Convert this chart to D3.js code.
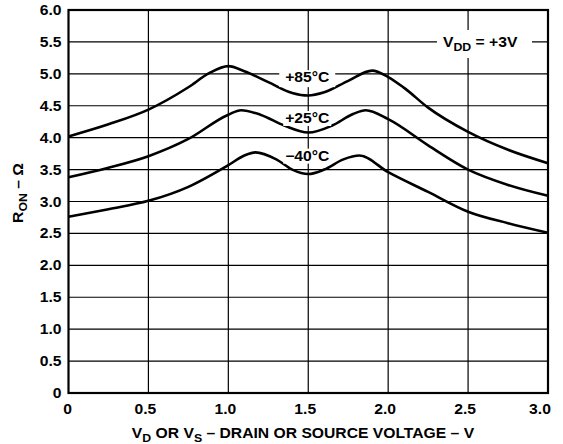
<!DOCTYPE html>
<html>
<head>
<meta charset="utf-8">
<script src="https://cdn.jsdelivr.net/npm/d3@7"></script>
<style>
  body { margin: 0; background: #fff; }
  svg text { font-family: "Liberation Sans", Arial, sans-serif; font-weight: bold; fill: #000; font-size: 14px; }
</style>
</head>
<body>
<svg id="chart" width="563" height="444"></svg>
<script>
// Curve data (V in volts, R in ohms)
const v85 = [0, 0.25, 0.5, 0.75, 0.88, 1.0, 1.1, 1.25, 1.4, 1.5, 1.6, 1.75, 1.9, 2.0, 2.1, 2.25, 2.5, 2.75, 3.0];
const r85 = [4.02, 4.21, 4.44, 4.79, 5.01, 5.12, 5.04, 4.87, 4.70, 4.66, 4.71, 4.89, 5.05, 4.95, 4.78, 4.47, 4.09, 3.81, 3.60];

const v25 = [0, 0.25, 0.5, 0.75, 1.0, 1.08, 1.2, 1.35, 1.5, 1.65, 1.78, 1.86, 2.0, 2.25, 2.5, 2.75, 3.0];
const r25 = [3.38, 3.53, 3.71, 3.98, 4.36, 4.43, 4.36, 4.19, 4.08, 4.19, 4.37, 4.43, 4.29, 3.88, 3.50, 3.26, 3.09];

const vm40 = [0, 0.25, 0.5, 0.75, 1.0, 1.1, 1.17, 1.3, 1.4, 1.5, 1.6, 1.72, 1.82, 2.0, 2.25, 2.5, 2.75, 3.0];
const rm40 = [2.76, 2.88, 3.01, 3.23, 3.57, 3.72, 3.77, 3.66, 3.50, 3.43, 3.50, 3.66, 3.72, 3.46, 3.15, 2.84, 2.66, 2.51];

const xTicks = [0, 0.5, 1.0, 1.5, 2.0, 2.5, 3.0];
const yTicks = [0, 0.5, 1.0, 1.5, 2.0, 2.5, 3.0, 3.5, 4.0, 4.5, 5.0, 5.5, 6.0];
const xTickLabels = ['0', '0.5', '1.0', '1.5', '2.0', '2.5', '3.0'];
const yTickLabels = ['0', '0.5', '1.0', '1.5', '2.0', '2.5', '3.0', '3.5', '4.0', '4.5', '5.0', '5.5', '6.0'];

const seriesNames = ['+85°C', '+25°C', '\u221240°C'];

// Plot box in page pixels
const margin = { top: 10, right: 15, bottom: 51, left: 68.5 };
const width = 563 - margin.left - margin.right;
const height = 444 - margin.top - margin.bottom;

// The original lettering is a bit wider than Arial bold
const stretch = 1.12;
const place = (px, py, rot) =>
  `translate(${px},${py})${rot ? ` rotate(${rot})` : ''} scale(${stretch},1)`;

const svg = d3.select('#chart');

const x = d3.scaleLinear().domain([0, 3]).range([margin.left, margin.left + width]);
const y = d3.scaleLinear().domain([0, 6]).range([margin.top + height, margin.top]);

// Grid lines
const grid = svg.append('g').attr('stroke', '#000').attr('stroke-width', 1.2);
grid.selectAll('.vg')
  .data(xTicks.slice(1, -1))
  .enter().append('line')
  .attr('x1', d => x(d)).attr('x2', d => x(d))
  .attr('y1', y(0)).attr('y2', y(6));
grid.selectAll('.hg')
  .data(yTicks.slice(1, -1))
  .enter().append('line')
  .attr('x1', x(0)).attr('x2', x(3))
  .attr('y1', d => y(d)).attr('y2', d => y(d));

// Tick labels
svg.append('g')
  .selectAll('text')
  .data(yTicks)
  .enter().append('text')
  .attr('transform', d => place(margin.left - 7, y(d) + 5))
  .attr('text-anchor', 'end')
  .text((d, i) => yTickLabels[i]);

svg.append('g')
  .selectAll('text')
  .data(xTicks)
  .enter().append('text')
  .attr('transform', (d, i) => place(x(d) - (i === 0 ? 1 : i === xTicks.length - 1 ? 8 : 3), y(0) + 21))
  .attr('text-anchor', 'middle')
  .text((d, i) => xTickLabels[i]);

// Axis titles with subscripts
const xTitle = svg.append('text')
  .attr('transform', place(303, 437.5))
  .attr('text-anchor', 'middle');
xTitle.append('tspan').text('V');
xTitle.append('tspan').attr('dy', 4).style('font-size', '11px').text('D');
xTitle.append('tspan').attr('dy', -4).text(' OR V');
xTitle.append('tspan').attr('dy', 4).style('font-size', '11px').text('S');
xTitle.append('tspan').attr('dy', -4).text(' \u2013 DRAIN OR SOURCE VOLTAGE \u2013 V');

const yTitle = svg.append('text')
  .attr('transform', place(23, 193, -90))
  .attr('text-anchor', 'middle');
yTitle.append('tspan').text('R');
yTitle.append('tspan').attr('dy', 4).style('font-size', '11px').text('ON');
yTitle.append('tspan').attr('dy', -4).text(' \u2013 \u03A9');

// Curves
const line = d3.line()
  .x(d => x(d[0]))
  .y(d => y(d[1]))
  .curve(d3.curveMonotoneX);

const series = [
  d3.zip(v85, r85),
  d3.zip(v25, r25),
  d3.zip(vm40, rm40)
];

svg.append('g')
  .selectAll('path')
  .data(series)
  .enter().append('path')
  .attr('d', line)
  .attr('fill', 'none')
  .attr('stroke', '#000')
  .attr('stroke-width', 2.6)
  .attr('stroke-linejoin', 'round');

// Curve labels on white boxes (baseline values)
const labelY = [4.87, 4.23, 3.64];
const labelBox = [[-28, -12, 56, 17], [-24, -12, 48, 15], [-24, -12, 48, 15]];
const labels = svg.append('g');
seriesNames.forEach((name, i) => {
  const cx = x(1.5) - 1;
  const by = y(labelY[i]);
  const b = labelBox[i];
  labels.append('rect')
    .attr('x', cx + b[0])
    .attr('y', by + b[1])
    .attr('width', b[2])
    .attr('height', b[3])
    .attr('fill', '#fff');
  labels.append('text')
    .attr('transform', place(cx, by))
    .attr('text-anchor', 'middle')
    .text(name);
});

// Supply voltage note
const note = svg.append('g');
note.append('rect')
  .attr('x', 437).attr('y', 30)
  .attr('width', 95).attr('height', 28)
  .attr('fill', '#fff');
const noteText = note.append('text')
  .attr('transform', place(443, 47));
noteText.append('tspan').text('V');
noteText.append('tspan').attr('dy', 4).style('font-size', '11px').text('DD');
noteText.append('tspan').attr('dy', -4).text(' = +3V');

// Frame
svg.append('rect')
  .attr('x', x(0)).attr('y', y(6))
  .attr('width', width).attr('height', height)
  .attr('fill', 'none')
  .attr('stroke', '#000')
  .attr('stroke-width', 2.2);
</script>
</body>
</html>
